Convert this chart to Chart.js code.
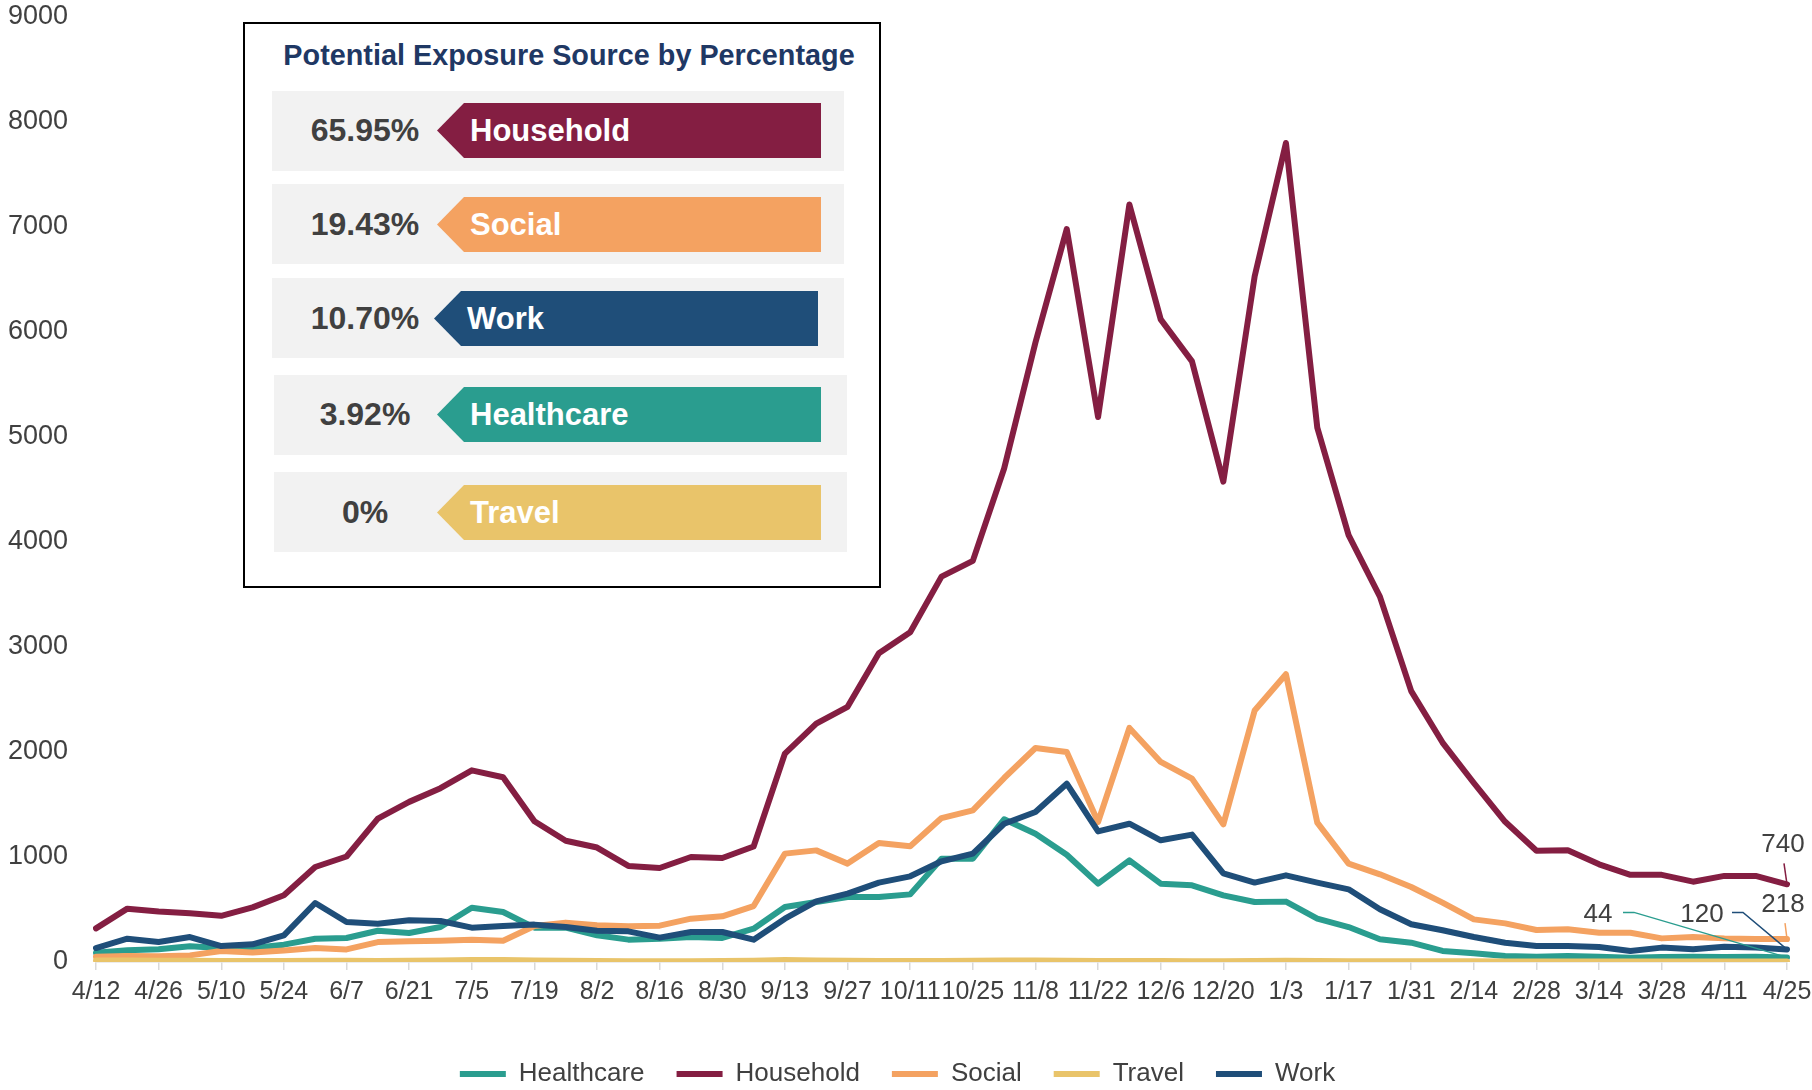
<!DOCTYPE html>
<html>
<head>
<meta charset="utf-8">
<script src="https://cdn.jsdelivr.net/npm/chart.js@4/dist/chart.umd.min.js"></script>
<style>
  html, body { margin: 0; padding: 0; background: #fff; }
  #wrap { position: relative; width: 1812px; height: 1090px; font-family: 'Liberation Sans', Arial, sans-serif; }
  #c { position: absolute; left: 0; top: 0; }
  #panel { position: absolute; left: 243px; top: 22px; width: 638px; height: 566px; box-sizing: border-box; border: 2px solid #000; background: #fff; z-index: 2; }
  #panel .title { position: absolute; left: 0; width: 100%; top: 15px; text-align: center; padding-left: 14px; box-sizing: border-box; font-weight: bold; font-size: 28.8px; color: #1f3864; white-space: nowrap; }
  .row { position: absolute; background: #f2f2f2; height: 80px; }
  .pct { position: absolute; width: 180px; text-align: center; font-weight: bold; font-size: 32px; color: #404040; }
  .arrow { position: absolute; height: 55px; clip-path: polygon(27px 0, 100% 0, 100% 100%, 27px 100%, 0 50%); }
  .arrow span { position: absolute; left: 33px; top: 0; line-height: 55px; font-weight: bold; font-size: 31px; color: #fff; white-space: nowrap; }
</style>
</head>
<body>
<div id="wrap">
  <canvas id="c" width="1812" height="1090"></canvas>
  <div id="panel"><div class="title">Potential Exposure Source by Percentage</div></div>
</div>
<script>
// ---------- data ----------
const weeks = ['4/12','4/19','4/26','5/3','5/10','5/17','5/24','5/31','6/7','6/14','6/21','6/28','7/5','7/12','7/19','7/26','8/2','8/9','8/16','8/23','8/30','9/6','9/13','9/20','9/27','10/4','10/11','10/18','10/25','11/1','11/8','11/15','11/22','11/29','12/6','12/13','12/20','12/27','1/3','1/10','1/17','1/24','1/31','2/7','2/14','2/21','2/28','3/7','3/14','3/21','3/28','4/4','4/11','4/18','4/25'];

const healthcare = [89,111,121,149,133,133,165,222,229,298,276,333,517,476,327,327,254,213,222,238,229,317,524,571,619,619,644,984,984,1359,1222,1022,746,968,746,730,635,571,575,413,333,216,184,105,83,57,51,57,51,41,48,51,48,51,44];
const household = [320,508,480,465,440,520,635,905,1005,1365,1525,1655,1825,1760,1340,1155,1090,915,895,1000,990,1100,1985,2270,2430,2940,3140,3670,3820,4700,5900,6980,5190,7215,6120,5720,4575,6530,7800,5090,4065,3480,2580,2090,1705,1335,1060,1065,930,830,830,765,820,820,740];
const social = [50,57,55,63,105,90,110,133,120,190,197,203,213,203,343,375,350,340,346,413,435,533,1032,1063,937,1133,1102,1371,1444,1752,2038,2000,1333,2229,1905,1746,1311,2395,2740,1327,937,835,714,565,406,368,305,311,279,279,225,238,225,220,218];
const travel = [15,15,12,12,10,10,10,12,12,10,12,15,20,20,15,12,10,8,8,8,10,12,20,15,12,10,10,10,12,15,15,12,10,10,10,8,8,10,12,10,8,8,8,6,6,5,5,5,5,5,5,5,5,5,5];
const work = [133,222,190,238,152,168,254,562,381,365,397,390,327,343,356,333,298,292,232,286,286,213,413,578,651,756,816,959,1032,1317,1429,1698,1244,1317,1159,1213,844,756,825,756,692,502,359,302,238,184,152,152,143,105,137,121,146,137,120];

const seriesNames = ['Healthcare','Household','Social','Travel','Work'];
const yTicks = [0,1000,2000,3000,4000,5000,6000,7000,8000,9000];

const panelCategories = ['Household','Social','Work','Healthcare','Travel'];
const panelShares = ['65.95%','19.43%','10.70%','3.92%','0%'];

// ---------- styles ----------
const colors = { Healthcare:'#2a9d8f', Household:'#841e42', Social:'#f4a261', Travel:'#e9c46a', Work:'#1f4e79' };
const drawOrder = { Healthcare:4, Household:3, Social:2, Travel:1, Work:0 };
// end-label offsets (px) relative to the last point of a series
const endLabelStyle = {
  Household:  { text:[-4,-39], leader:[[-3,-21],[0,0]] },
  Social:     { text:[-4,-34], leader:[[-2,-16],[0,0]] },
  Work:       { text:[-85,-35], leader:[[-55,-37],[-44,-37],[0,0]] },
  Healthcare: { text:[-189,-43], leader:[[-164,-45],[-153,-45],[0,0]] }
};

// ---------- panel ----------
const rowLayout = [
  { top: 67,  left: 27, width: 572, aTop: 12, aLeft: 192, aWidth: 384 },
  { top: 160, left: 27, width: 572, aTop: 13, aLeft: 192, aWidth: 384 },
  { top: 254, left: 27, width: 572, aTop: 13, aLeft: 189, aWidth: 384 },
  { top: 351, left: 29, width: 573, aTop: 12, aLeft: 192, aWidth: 384 },
  { top: 448, left: 29, width: 573, aTop: 13, aLeft: 192, aWidth: 384 }
];
const panel = document.getElementById('panel');
panelCategories.forEach((cat, i) => {
  const L = rowLayout[i];
  const row = document.createElement('div');
  row.className = 'row';
  row.style.top = L.top + 'px'; row.style.left = L.left + 'px'; row.style.width = L.width + 'px';
  const pct = document.createElement('div');
  pct.className = 'pct';
  pct.textContent = panelShares[i];
  pct.style.left = (365 - 245 - L.left - 90) + 'px';
  pct.style.top = L.aTop + 'px';
  pct.style.lineHeight = '55px';
  row.appendChild(pct);
  const ar = document.createElement('div');
  ar.className = 'arrow';
  ar.style.background = colors[cat];
  ar.style.top = L.aTop + 'px';
  ar.style.left = (L.aLeft - L.left) + 'px';
  ar.style.width = L.aWidth + 'px';
  const sp = document.createElement('span');
  sp.textContent = cat;
  ar.appendChild(sp);
  row.appendChild(ar);
  panel.appendChild(row);
});

// ---------- chart ----------
Chart.defaults.font.family = "'Liberation Sans', Arial, sans-serif";
Chart.defaults.color = '#404040';

const seriesData = { Healthcare: healthcare, Household: household, Social: social, Travel: travel, Work: work };

const endLabelsPlugin = {
  id: 'endLabels',
  afterDatasetsDraw(chart) {
    const ctx = chart.ctx;
    chart.data.datasets.forEach((ds, di) => {
      const st = endLabelStyle[ds.label];
      if (!st) return;
      const meta = chart.getDatasetMeta(di);
      const last = meta.data[meta.data.length - 1];
      const px = last.x, py = last.y;
      ctx.save();
      ctx.strokeStyle = ds.borderColor;
      ctx.lineWidth = 1.5;
      ctx.beginPath();
      st.leader.forEach((p, k) => {
        if (k === 0) ctx.moveTo(px + p[0], py + p[1]); else ctx.lineTo(px + p[0], py + p[1]);
      });
      ctx.stroke();
      ctx.fillStyle = '#404040';
      ctx.font = "26px 'Liberation Sans', Arial, sans-serif";
      ctx.textAlign = 'center';
      ctx.textBaseline = 'middle';
      ctx.fillText(String(ds.data[ds.data.length - 1]), px + st.text[0], py + st.text[1]);
      ctx.restore();
    });
  }
};

new Chart(document.getElementById('c'), {
  type: 'line',
  data: {
    labels: weeks,
    datasets: seriesNames.map(name => ({
      label: name,
      data: seriesData[name],
      borderColor: colors[name],
      backgroundColor: colors[name],
      borderWidth: 6,
      borderCapStyle: 'round',
      borderJoinStyle: 'round',
      pointRadius: 0,
      pointHoverRadius: 0,
      tension: 0,
      fill: false,
      order: drawOrder[name]
    }))
  },
  options: {
    responsive: false,
    animation: false,
    events: [],
    layout: { padding: { left: 8, right: 25, top: 17, bottom: -7 } },
    scales: {
      x: {
        type: 'category',
        offset: false,
        grid: {
          drawOnChartArea: false,
          drawTicks: true,
          tickLength: 8,
          lineWidth: 1.5,
          color: c => (c.index % 2 === 0 ? '#d9d9d9' : 'rgba(0,0,0,0)')
        },
        border: { display: true, color: '#d9d9d9', width: 1.5 },
        ticks: {
          autoSkip: false,
          maxRotation: 0,
          minRotation: 0,
          padding: 7,
          font: { size: 25 },
          color: '#404040',
          callback: (v, i) => (i % 2 === 0 ? weeks[i] : '')
        },
        afterFit: s => { s.height = 67; s.paddingLeft = 0; s.paddingRight = 0; }
      },
      y: {
        min: 0,
        max: 9000,
        afterBuildTicks: s => { s.ticks = yTicks.map(v => ({ value: v })); },
        grid: { display: false, drawTicks: false },
        border: { display: false },
        ticks: { padding: 28, font: { size: 27 }, color: '#404040', callback: v => String(v) },
        afterFit: s => { s.width = 88; s.paddingTop = 0; s.paddingBottom = 0; }
      }
    },
    plugins: {
      legend: {
        position: 'bottom',
        labels: {
          usePointStyle: true,
          pointStyleWidth: 46,
          pointStyle: 'line',
          padding: 32,
          font: { size: 26 },
          color: '#404040',
          sort: (a, b) => a.datasetIndex - b.datasetIndex
        }
      },
      tooltip: { enabled: false }
    }
  },
  plugins: [endLabelsPlugin]
});
</script>
</body>
</html>
